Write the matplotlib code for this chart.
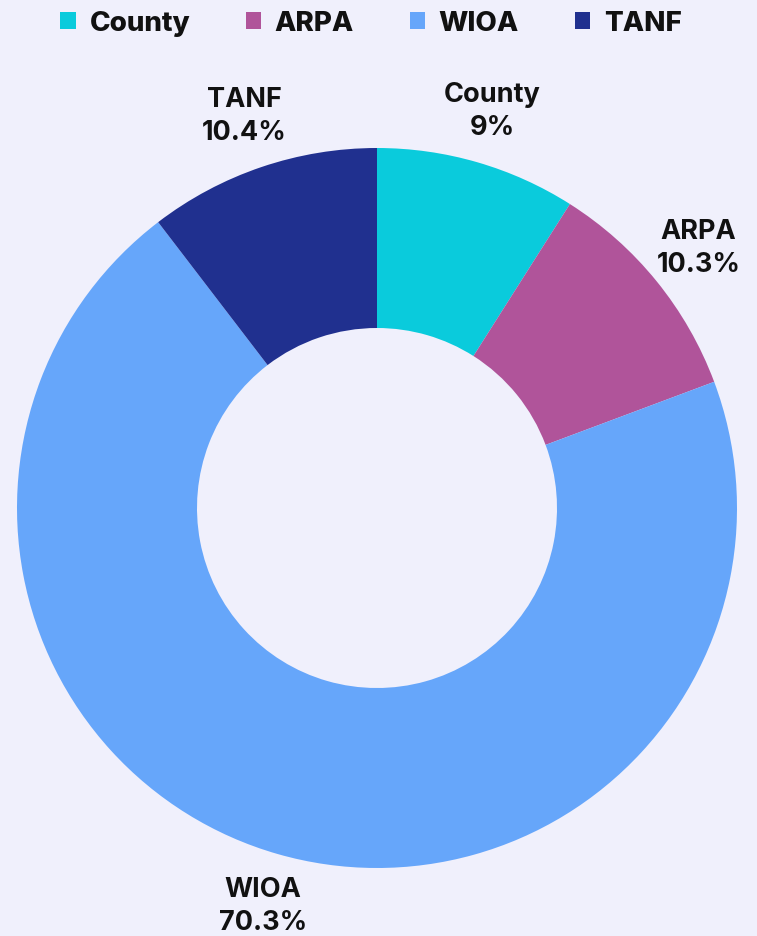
import matplotlib
matplotlib.use("Agg")
import matplotlib.pyplot as plt

categories = ["County", "ARPA", "WIOA", "TANF"]
values = [9, 10.3, 70.3, 10.4]
colors = ["#0ACBDC", "#B0549A", "#66A6FA", "#20308F"]

BG = "#F0F0FC"
W, H = 757, 937
fig = plt.figure(figsize=(W / 100, H / 100), dpi=100, facecolor=BG)

cx, cy, r = 377, 509, 360
ax = fig.add_axes([(cx - r) / W, (H - cy - r) / H, 2 * r / W, 2 * r / H])
ax.set_facecolor(BG)
ax.axis("off")

labels = [f"{c}\n{v:g}%" for c, v in zip(categories, values)]
wedges, texts = ax.pie(values, colors=colors, startangle=90, counterclock=False,
                       radius=1, wedgeprops=dict(width=0.5, linewidth=0),
                       labels=labels, labeldistance=1.15,
                       textprops=dict(fontsize=19.5, fontweight="bold", family=["Inter", "DejaVu Sans"],
                                      color="#111111", linespacing=1.35))
for t in texts:
    t.set_ha("center")
    t.set_va("center")
    t.set_clip_on(False)
ax.set_xlim(-1, 1)
ax.set_ylim(-1, 1)
ax.set_aspect("equal")

leg = fig.legend(wedges, categories, loc="center", bbox_to_anchor=(0.49, 1 - 24 / H), ncol=4,
                 frameon=False, handlelength=0.55, handleheight=0.55, handletextpad=0.5,
                 columnspacing=2.0, prop=dict(size=20, weight="heavy", family=["Inter", "DejaVu Sans"]))
for t in leg.get_texts():
    t.set_color("#111111")

fig.savefig("out.png", dpi=100, facecolor=BG)
